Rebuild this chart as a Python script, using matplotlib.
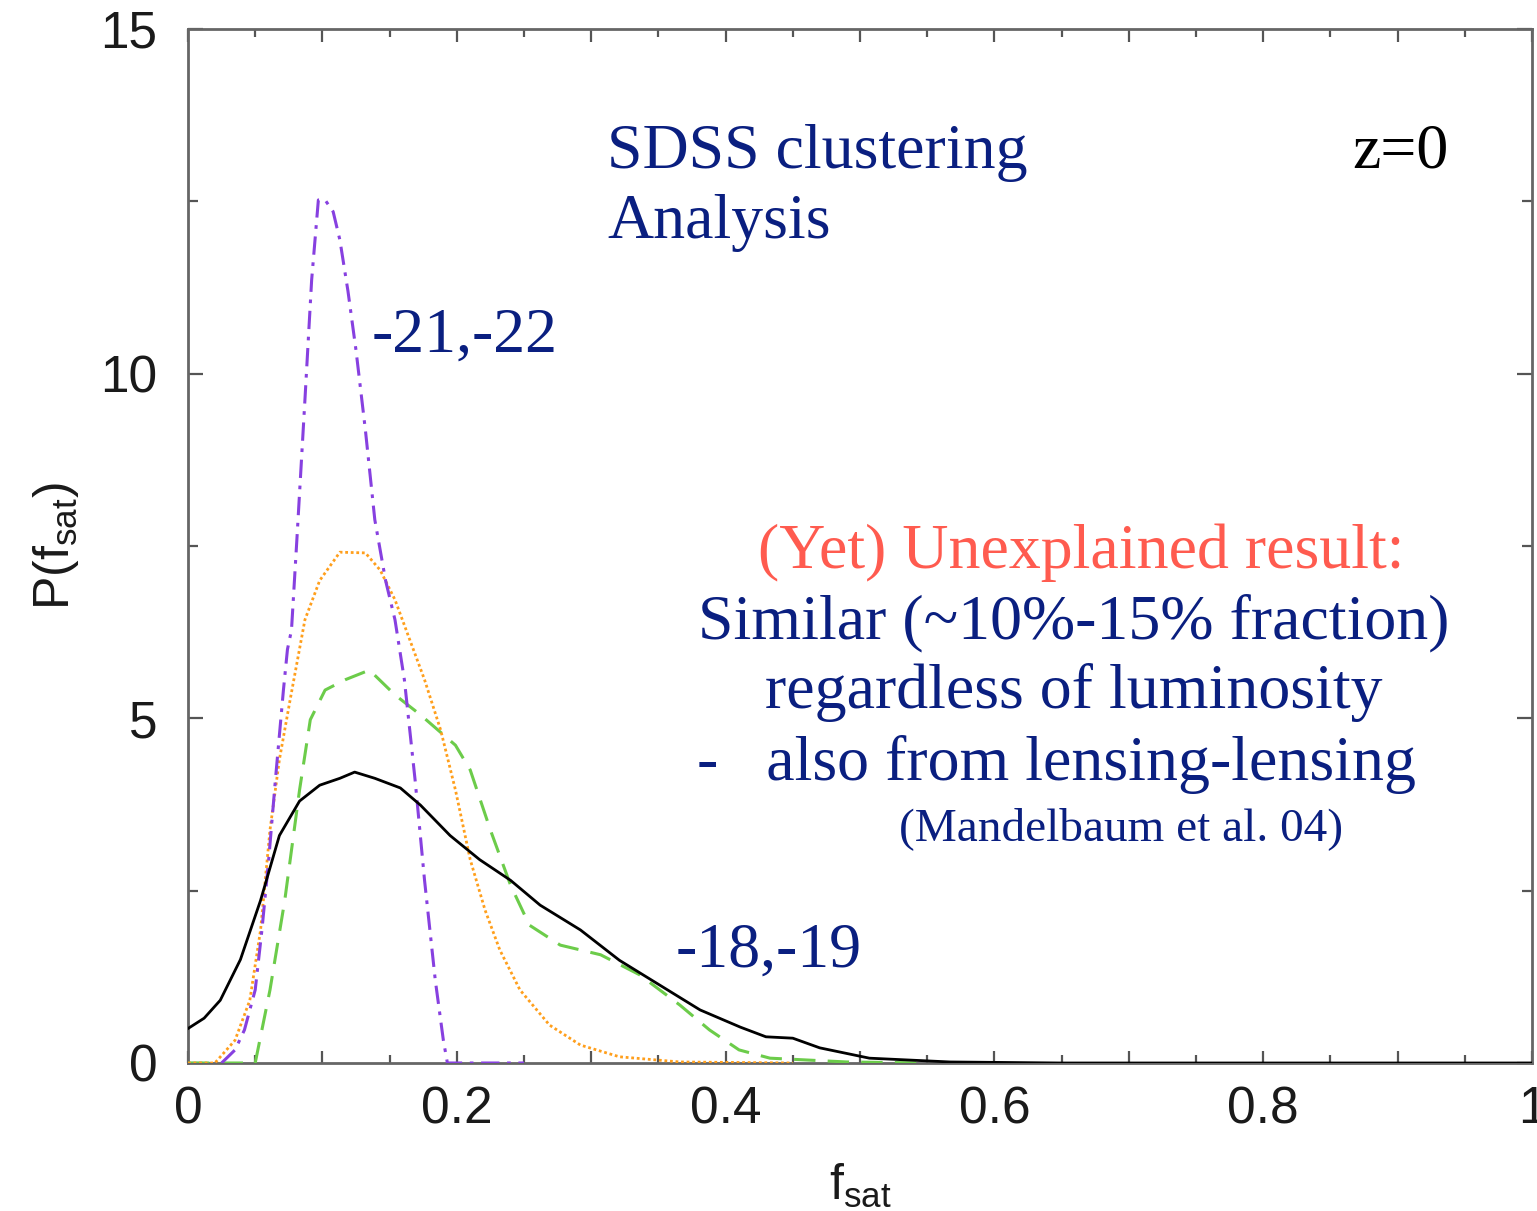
import matplotlib
matplotlib.use('Agg')
import matplotlib.pyplot as plt

# values
# -18,-19 sample (black solid)
f_black = [0.0, 0.012, 0.024, 0.039, 0.054, 0.068, 0.083, 0.098, 0.113, 0.124, 0.139, 0.158, 0.173,
           0.195, 0.217, 0.24, 0.262, 0.292, 0.321, 0.351, 0.381, 0.411, 0.43, 0.45, 0.47,
           0.507, 0.567, 0.65, 1.0]
p_black = [0.5, 0.65, 0.91, 1.5, 2.36, 3.3, 3.8, 4.03, 4.13, 4.22, 4.13, 3.99, 3.74,
           3.3, 2.95, 2.65, 2.29, 1.93, 1.49, 1.13, 0.77, 0.52, 0.38, 0.36, 0.22,
           0.07, 0.015, 0.0, 0.0]

# green dashed
f_green = [0.0, 0.05, 0.061, 0.072, 0.083, 0.091, 0.102, 0.117, 0.135, 0.154, 0.173, 0.199,
           0.21, 0.225, 0.24, 0.254, 0.277, 0.307, 0.336, 0.366, 0.388, 0.41, 0.433, 0.49, 0.55]
p_green = [0.0, 0.0, 1.06, 2.36, 3.96, 4.98, 5.41, 5.56, 5.7, 5.34, 5.05, 4.61,
           4.25, 3.38, 2.58, 2.0, 1.71, 1.57, 1.28, 0.84, 0.48, 0.19, 0.07, 0.015, 0.0]

# orange dotted
f_orange = [0.0, 0.02, 0.035, 0.046, 0.054, 0.061, 0.068, 0.076, 0.087, 0.098, 0.113, 0.132,
            0.143, 0.154, 0.165, 0.176, 0.188, 0.199, 0.21, 0.221, 0.232, 0.247, 0.269,
            0.292, 0.321, 0.366, 0.45]
p_orange = [0.0, 0.0, 0.33, 0.91, 1.93, 3.38, 4.4, 5.27, 6.43, 7.0, 7.41, 7.4,
            7.15, 6.72, 6.14, 5.56, 4.83, 3.96, 2.95, 2.22, 1.64, 1.06, 0.55,
            0.26, 0.09, 0.015, 0.0]

# -21,-22 sample (purple dash-dot)
f_purple = [0.025, 0.035, 0.042, 0.05, 0.055, 0.06, 0.065, 0.071, 0.074, 0.077, 0.081, 0.087,
            0.092, 0.097, 0.102, 0.108, 0.113, 0.119, 0.125, 0.132, 0.139, 0.147, 0.154,
            0.161, 0.169, 0.176, 0.184, 0.19, 0.193, 0.25]
p_purple = [0.0, 0.19, 0.48, 1.06, 1.93, 2.94, 4.1, 5.41, 6.0, 6.28, 7.59, 9.62,
            11.36, 12.52, 12.52, 12.35, 11.94, 11.2, 10.34, 9.18, 7.88, 7.0, 6.43,
            5.56, 4.1, 2.65, 1.2, 0.33, 0.0, 0.0]

x_major = [0, 0.1, 0.2, 0.3, 0.4, 0.5, 0.6, 0.7, 0.8, 0.9, 1.0]
x_labels = ['0', '', '0.2', '', '0.4', '', '0.6', '', '0.8', '', '1']
y_major = [0, 5, 10, 15]

W, H = 1537, 1211
fig = plt.figure(figsize=(W / 100, H / 100), dpi=100)
ax = fig.add_axes([188 / W, 1 - 1063 / H, (1532 - 188) / W, (1063 - 29) / H])

ax.plot(f_black, p_black, color='black', lw=2.0, zorder=5)
ax.plot(f_green, p_green, color='#6ccc4a', lw=2.2, ls=(0, (7, 4)), zorder=4)
ax.plot(f_orange, p_orange, color='#ff9f1c', lw=2.0, ls=(0, (1, 1)), zorder=4)
ax.plot(f_purple, p_purple, color='#8740e0', lw=2.2, ls=(0, (6, 2.5, 1.2, 2.5)), zorder=4)

ax.set_xlim(0, 1)
ax.set_ylim(0, 15)
ax.set_xticks(x_major)
ax.set_xticklabels(x_labels)
ax.set_xticks([i * 0.05 for i in range(21)], minor=True)
ax.set_yticks(y_major)
ax.set_yticks([2.5, 7.5, 12.5], minor=True)

for s in ax.spines.values():
    s.set_color('#666666')
    s.set_linewidth(2.0)
ax.tick_params(which='both', direction='in', top=True, right=True, color='#555555', width=1.6)
ax.tick_params(which='major', length=11)
ax.tick_params(which='minor', length=7)
ax.tick_params(axis='x', which='major', length=9)
ax.tick_params(axis='x', which='minor', length=6)
ax.tick_params(labelsize=37, labelcolor='#1a1a1a')
ax.tick_params(axis='x', pad=16)
ax.tick_params(axis='y', pad=22)
for lab in ax.get_xticklabels() + ax.get_yticklabels():
    lab.set_family('Liberation Sans')

ax.set_xlabel(r'$\mathregular{f_{sat}}$', fontsize=36, family='Liberation Sans', color='#1a1a1a', labelpad=20)
ax.set_ylabel(r'$\mathregular{P(f_{sat})}$', fontsize=36, family='Liberation Sans', color='#1a1a1a', labelpad=14)

navy = '#0a1f80'
serif = 'Liberation Serif'


def px_text(x, y, s, **kw):
    fig.text(x / W, 1 - y / H, s, family=serif, va='baseline', **kw)


px_text(607, 168, 'SDSS clustering', fontsize=46, color=navy)
px_text(607, 238, 'Analysis', fontsize=46, color=navy)
px_text(1352, 168, 'z=0', fontsize=46, color='black')
px_text(372, 352, '-21,-22', fontsize=46, color=navy)
px_text(676, 967, '-18,-19', fontsize=46, color=navy)
px_text(1081, 568, '(Yet) Unexplained result:', fontsize=46, color='#ff5b4f', ha='center')
px_text(1074, 638, 'Similar (~10%-15% fraction)', fontsize=46, color=navy, ha='center')
px_text(1074, 708, 'regardless of luminosity', fontsize=46, color=navy, ha='center')
px_text(697, 780, '-   also from lensing-lensing', fontsize=46, color=navy)
px_text(1121, 840, '(Mandelbaum et al. 04)', fontsize=34, color=navy, ha='center')

fig.savefig('out.png', dpi=100)
